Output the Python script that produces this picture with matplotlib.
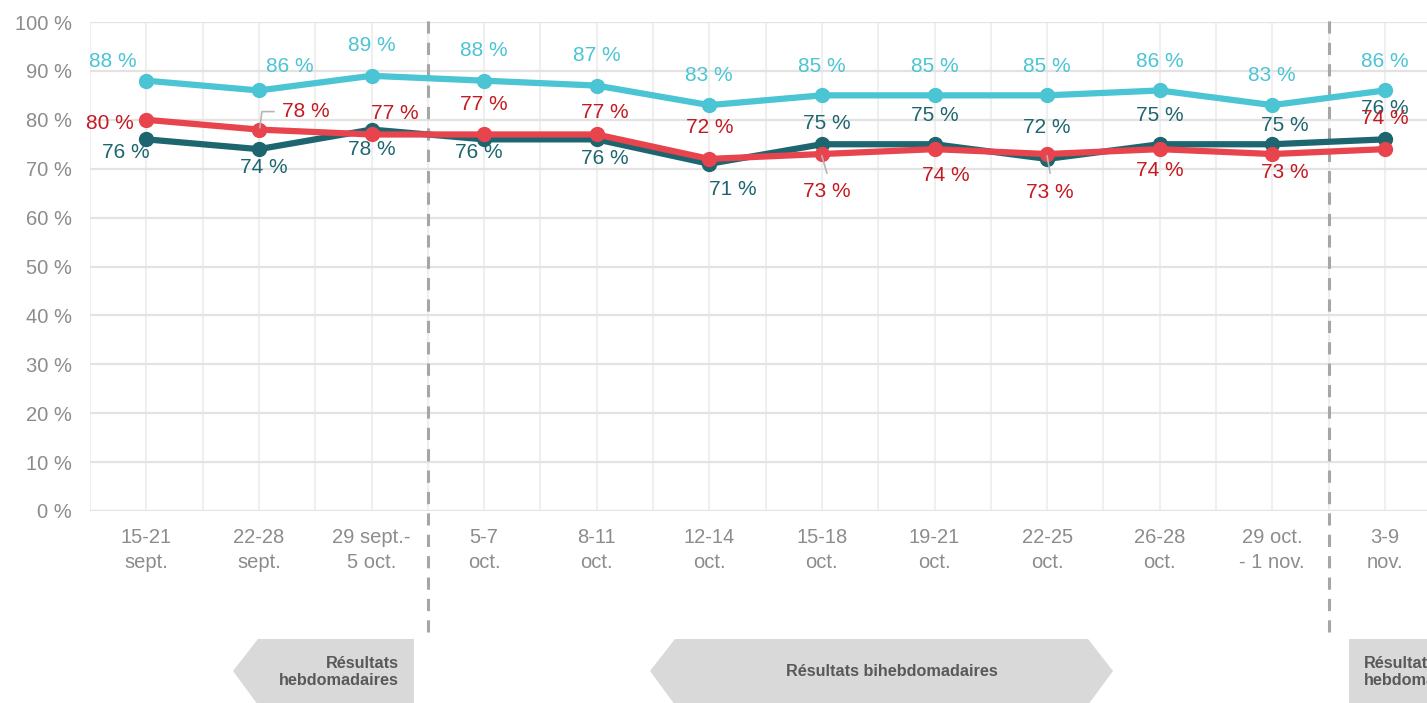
import matplotlib.pyplot as plt
from matplotlib.patches import Polygon
from matplotlib.lines import Line2D
from matplotlib.transforms import IdentityTransform
import numpy as np

plt.rcParams['font.family'] = ['Liberation Sans', 'DejaVu Sans']

# Data
periods = ["15-21\nsept.", "22-28\nsept.", "29 sept.-\n5 oct.", "5-7\noct.", "8-11\noct.",
           "12-14\noct.", "15-18\noct.", "19-21\noct.", "22-25\noct.", "26-28\noct.",
           "29 oct.\n- 1 nov.", "3-9\nnov."]
serie_cyan = [88, 86, 89, 88, 87, 83, 85, 85, 85, 86, 83, 86]
serie_teal = [76, 74, 78, 76, 76, 71, 75, 75, 72, 75, 75, 76]
serie_red = [80, 78, 77, 77, 77, 72, 73, 74, 73, 74, 73, 74]
phase_breaks = [2.5, 10.5]
yticks = list(range(0, 101, 10))

# label offsets in pixels (dx, dy up)
cyan_off = [(-33, 19), (31, 24), (0, 30), (0, 30), (0, 30), (0, 30), (0, 29), (0, 29), (0, 29), (0, 29), (0, 30), (0, 29)]
teal_off = [(-20, -13), (5, -18), (0, -20), (-5, -13), (8, -19), (24, -26), (5, 21), (0, 29), (0, 31), (0, 29), (13, 19), (0, 31)]
red_off = [(-36, -4), (47, 18), (23, 21), (0, 30), (8, 22), (0, 31), (5, -37), (11, -26), (3, -38), (0, -21), (13, -18), (0, 31)]
leaders = {1: [(1, 2), (3, 18), (15, 18)], 6: [(0, -2), (5, -19)], 8: [(0, -2), (3, -19)]}

W, H = 1427, 703
fig = plt.figure(figsize=(W / 100, H / 100), dpi=100)

# background layer for the phase arrows (pixel coords)
bg = fig.add_axes([0, 0, 1, 1])
bg.set_xlim(0, W)
bg.set_ylim(H, 0)
bg.axis('off')

arrow_col = '#d9d9d9'
txt_col = '#595959'
bg.add_patch(Polygon([(233, 671), (258, 639), (414, 639), (414, 705), (258, 705)], closed=True, color=arrow_col, lw=0))
bg.add_patch(Polygon([(650, 671), (675, 639), (1088, 639), (1113, 671), (1088, 705), (675, 705)], closed=True, color=arrow_col, lw=0))
bg.add_patch(Polygon([(1349, 639), (1430, 639), (1430, 705), (1349, 705)], closed=True, color=arrow_col, lw=0))
bg.text(399, 672, "Résultats\nhebdomadaires", ha='right', va='center', fontsize=11.7, fontweight='bold', color=txt_col, linespacing=1.2)
bg.text(892, 672, "Résultats bihebdomadaires", ha='center', va='center', fontsize=11.7, fontweight='bold', color=txt_col)
bg.text(1364, 672, "Résultats\nhebdomadaires", ha='left', va='center', fontsize=11.7, fontweight='bold', color=txt_col, linespacing=1.2)

ax_left = 90 / W
ax = fig.add_axes([ax_left, 1 - 511 / H, 1 - ax_left, 489 / H])
ax.set_facecolor('none')

x = np.arange(len(periods))
step = 112.6

ax.set_xticks(x)
ax.set_xticklabels(periods)
ax.set_xticks(np.arange(-0.5, len(periods), 1), minor=True)
ax.set_yticks(yticks)
ax.set_yticklabels([f"{v} %" for v in yticks])
ax.set_xlim(-0.5, -0.5 + (W - 90) / step)
ax.set_ylim(0, 100)
ax.tick_params(axis='both', which='both', length=0, colors='#8c8c8c', labelsize=14.5)
ax.tick_params(axis='x', pad=12)
ax.tick_params(axis='y', pad=13)
for lab in ax.get_xticklabels():
    lab.set_linespacing(1.4)

ax.grid(axis='y', color='#e3e3e3', lw=1.6)
ax.grid(axis='x', which='both', color='#efefef', lw=1.5)
ax.set_axisbelow(True)
for s in ax.spines.values():
    s.set_visible(False)

for b in phase_breaks:
    ax.axvline(b, ymin=-0.247, ymax=1.02, clip_on=False, color='#a6a6a6', lw=2.2,
               linestyle=(0, (4, 3)), zorder=2)

series = [
    (serie_cyan, '#4bc4d4', '#4bc4d4', cyan_off),
    (serie_teal, '#1d6670', '#1d6670', teal_off),
    (serie_red, '#e8444d', '#c41a22', red_off),
]
for k, (vals, col, tcol, offs) in enumerate(series):
    ax.plot(x, vals, color=col, lw=4.5, marker='o', markersize=10, zorder=3 + k)
    for i, v in enumerate(vals):
        ax.annotate(f"{v} %", (i, v), xytext=offs[i], textcoords='offset pixels',
                    ha='center', va='center', color=tcol, fontsize=15, zorder=10 + k)

# leader lines for a few red labels
for i, pts in leaders.items():
    px, py = ax.transData.transform((i, serie_red[i]))
    xs = [px + p[0] for p in pts]
    ys = [py + p[1] for p in pts]
    fig.add_artist(Line2D(xs, ys, transform=IdentityTransform(), color='#b5b5b5', lw=1.2, zorder=20))

fig.savefig('out.png', dpi=100)
